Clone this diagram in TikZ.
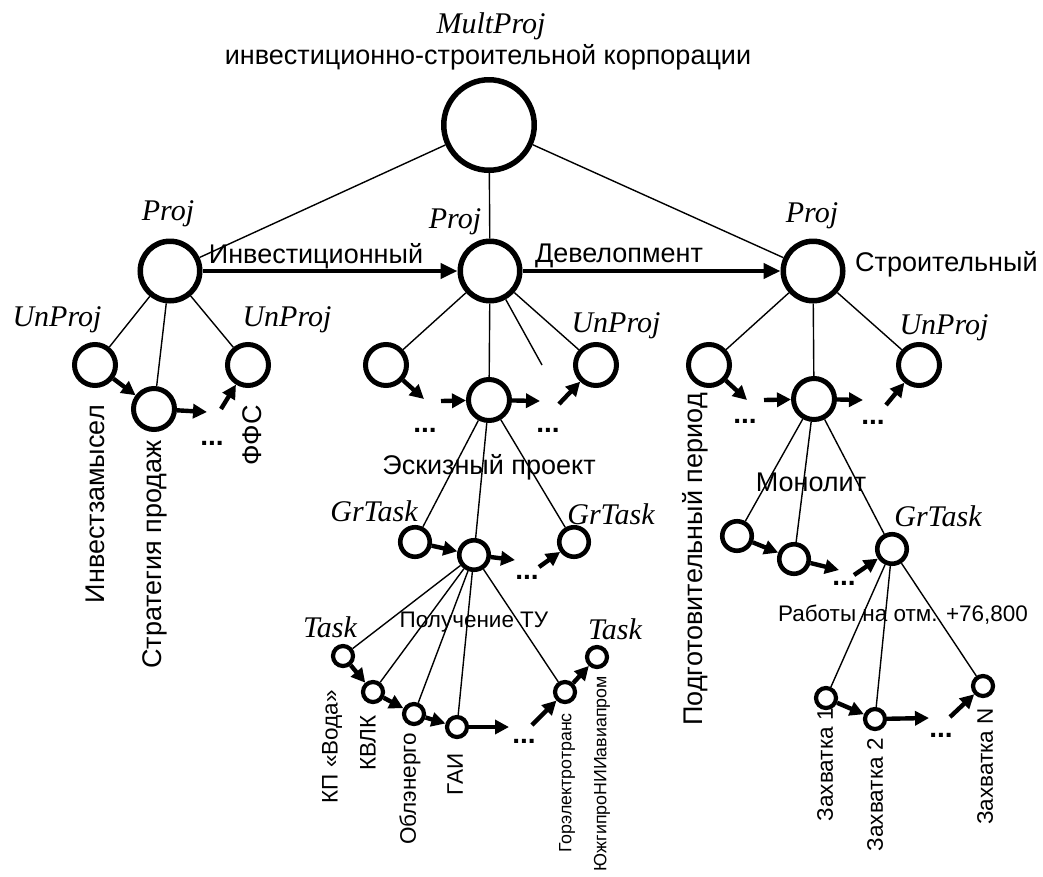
\documentclass[tikz,border=0pt]{standalone}
\usepackage{fontspec}
\setmainfont{Liberation Sans}
\newfontfamily\serifit{Liberation Serif}
\usetikzlibrary{arrows.meta}
\begin{document}
\begin{tikzpicture}[x=1pt,y=-1pt,
  circ/.style={circle,draw,line width=#1,inner sep=0pt},
  big/.style={circ=5.5pt,minimum size=90.5pt},
  proj/.style={circ=5.5pt,minimum size=59.5pt},
  mid/.style={circ=5pt,minimum size=41pt},
  grp/.style={circ=4.6pt,minimum size=29.5pt},
  tsk/.style={circ=4.2pt,minimum size=20pt},
  thin/.style={line width=1.4pt},
  arr/.style={line width=4.4pt,-{Triangle[length=14pt,width=14pt]}},
  bigarr/.style={line width=4.6pt,-{Triangle[length=17pt,width=15pt]}},
  lab/.style={font=\fontsize{27}{30}\selectfont,inner sep=0pt},
  slab/.style={font=\fontsize{22.5}{26}\selectfont,inner sep=0pt},
  tlab/.style={font=\fontsize{17.8}{21}\selectfont,inner sep=0pt},
  it/.style={font=\serifit\itshape\fontsize{30}{34}\selectfont,inner sep=0pt},
  dots/.style={font=\bfseries\fontsize{28}{30}\selectfont,inner sep=0pt,anchor=base},
  vert/.style={rotate=90,anchor=east}
]
\useasboundingbox (0,0) rectangle (1043,876);

% ---------- nodes ----------
\node[big]  (top) at (489,125) {};
\node[proj] (PL)  at (170,271) {};
\node[proj] (PM)  at (490,271) {};
\node[proj] (PR)  at (813,271) {};

\node[mid] (A1) at (95,365) {};
\node[mid] (A2) at (154,409) {};
\node[mid] (A3) at (248,365) {};

\node[mid] (B1) at (386,365) {};
\node[mid] (B2) at (489,400) {};
\node[mid] (B3) at (596,365) {};
\coordinate (Bx) at (542,365);

\node[mid] (C1) at (709,365) {};
\node[mid] (C2) at (814,399) {};
\node[mid] (C3) at (919,365) {};

\node[grp] (D1) at (415,542) {};
\node[grp] (D2) at (474,555) {};
\node[grp] (D3) at (574,542) {};

\node[grp] (E1) at (737,536) {};
\node[grp] (E2) at (794,559) {};
\node[grp] (E3) at (892,549) {};

\node[tsk] (T1) at (343,656) {};
\node[tsk] (T2) at (373,692) {};
\node[tsk] (T3) at (414,714) {};
\node[tsk] (T4) at (457,727) {};
\node[tsk] (T5) at (565,692) {};
\node[tsk] (T6) at (597,657) {};

\node[tsk] (Z1) at (826,698) {};
\node[tsk] (Z2) at (875,719) {};
\node[tsk] (Z3) at (983,686) {};

% ---------- thin tree edges ----------
\draw[thin] (top) -- (PL);
\draw[thin] (top) -- (PM);
\draw[thin] (top) -- (PR);
\draw[thin] (PL) -- (A1);
\draw[thin] (PL) -- (A2);
\draw[thin] (PL) -- (A3);
\draw[thin] (PM) -- (B1);
\draw[thin] (PM) -- (B2);
\draw[thin] (PM) -- (Bx);
\draw[thin] (PM) -- (B3);
\draw[thin] (PR) -- (C1);
\draw[thin] (PR) -- (C2);
\draw[thin] (PR) -- (C3);
\draw[thin] (B2) -- (D1);
\draw[thin] (B2) -- (D2);
\draw[thin] (B2) -- (D3);
\draw[thin] (C2) -- (E1);
\draw[thin] (C2) -- (E2);
\draw[thin] (C2) -- (E3);
\draw[thin] (D2) -- (T1);
\draw[thin] (D2) -- (T2);
\draw[thin] (D2) -- (T3);
\draw[thin] (D2) -- (T4);
\draw[thin] (D2) -- (T5);
\draw[thin] (E3) -- (Z1);
\draw[thin] (E3) -- (Z2);
\draw[thin] (E3) -- (Z3);

% ---------- free arrow ends ----------
\coordinate (a2o) at (207,412);
\coordinate (a3i) at (221,409);
\coordinate (b1o) at (424,399);
\coordinate (b2i) at (441,401);
\coordinate (b2o) at (540,401);
\coordinate (b3i) at (559,404);
\coordinate (c1o) at (747,400);
\coordinate (c2i) at (764,400);
\coordinate (c2o) at (863,400);
\coordinate (c3i) at (886,405);
\coordinate (d2o) at (515,560);
\coordinate (d3i) at (539,567);
\coordinate (e2o) at (839,570);
\coordinate (e3i) at (854,575);
\coordinate (t4o) at (509,727);
\coordinate (t5i) at (532,725);
\coordinate (z2o) at (929,718);
\coordinate (z3i) at (950,717);

% ---------- thick arrows ----------
\draw[bigarr] (PL) -- (PM);
\draw[bigarr] (PM) -- (PR);
\node[lab] (linv) at (316,256) {Инвестиционный};
\node[lab] (ldev) at (619,256) {Девелопмент};

\draw[arr] (A1) -- (A2);
\draw[arr] (A2) -- (a2o);
\draw[arr] (a3i) -- (A3);
\draw[arr] (B1) -- (b1o);
\draw[arr] (b2i) -- (B2);
\draw[arr] (B2) -- (b2o);
\draw[arr] (b3i) -- (B3);
\draw[arr] (C1) -- (c1o);
\draw[arr] (c2i) -- (C2);
\draw[arr] (C2) -- (c2o);
\draw[arr] (c3i) -- (C3);
\draw[arr] (D1) -- (D2);
\draw[arr] (D2) -- (d2o);
\draw[arr] (d3i) -- (D3);
\draw[arr] (E1) -- (E2);
\draw[arr] (E2) -- (e2o);
\draw[arr] (e3i) -- (E3);
\draw[arr] (T1) -- (T2);
\draw[arr] (T2) -- (T3);
\draw[arr] (T3) -- (T4);
\draw[arr] (T4) -- (t4o);
\draw[arr] (t5i) -- (T5);
\draw[arr] (T5) -- (T6);
\draw[arr] (Z1) -- (Z2);
\draw[arr] (Z2) -- (z2o);
\draw[arr] (z3i) -- (Z3);

% ---------- dots ----------
\node[dots] (dA) at (212,445) {...};
\node[dots] (dB1) at (425,432) {...};
\node[dots] (dB2) at (548,432) {...};
\node[dots] (dC1) at (745,423) {...};
\node[dots] (dC2) at (873,424) {...};
\node[dots] (dD) at (527,579) {...};
\node[dots] (dE) at (844,585) {...};
\node[dots] (dT) at (524,743) {...};
\node[dots] (dZ) at (941,737) {...};

% ---------- italic type labels ----------
\node[it] (lMP) at (491,26) {MultProj};
\node[it] (lPL) at (168,214) {Proj};
\node[it] (lPM) at (455,222) {Proj};
\node[it] (lPR) at (812,216) {Proj};
\node[it] (lU1) at (57,320) {UnProj};
\node[it] (lU2) at (287,320) {UnProj};
\node[it] (lU3) at (616,326) {UnProj};
\node[it] (lU4) at (944,328) {UnProj};
\node[it] (lG1) at (374,511) {GrTask};
\node[it] (lG2) at (611,514) {GrTask};
\node[it] (lG3) at (938,516) {GrTask};
\node[it] (lT1) at (330,627) {Task};
\node[it] (lT2) at (615,629) {Task};

% ---------- text labels ----------
\node[lab] (corp) at (488,57) {инвестиционно-строительной корпорации};
\node[lab,anchor=west] (stroi) at (855,264) {Строительный};
\node[lab] (esk) at (489,467) {Эскизный проект};
\node[lab] (mono) at (811,482) {Монолит};
\node[slab] (tu) at (474,622) {Получение ТУ};
\node[slab] (rab) at (903,615) {Работы на отм. +76,800};

\node[lab,vert] (v1) at (95,405) {Инвестзамысел};
\node[lab,vert] (v2) at (155,440) {Стратегия продаж};
\node[lab,vert] (v3) at (252,405) {ФФС};
\node[lab,vert] (v4) at (695,393) {Подготовительный период};

\node[slab,vert] (w1) at (332,690) {КП «Вода»};
\node[slab,vert] (w2) at (368,715) {КВЛК};
\node[slab,vert] (w3) at (410,733) {Облэнерго};
\node[slab,vert] (w4) at (455,753) {ГАИ};
\node[tlab,vert] (w5) at (567,713) {Горэлектротранс};
\node[tlab,vert] (w6) at (602,676) {ЮжгипроНИИавиапром};

\node[slab,vert] (z1l) at (825,708) {Захватка 1};
\node[slab,vert] (z2l) at (875,738) {Захватка 2};
\node[slab,vert] (z3l) at (985,708) {Захватка N};
\end{tikzpicture}
\end{document}
